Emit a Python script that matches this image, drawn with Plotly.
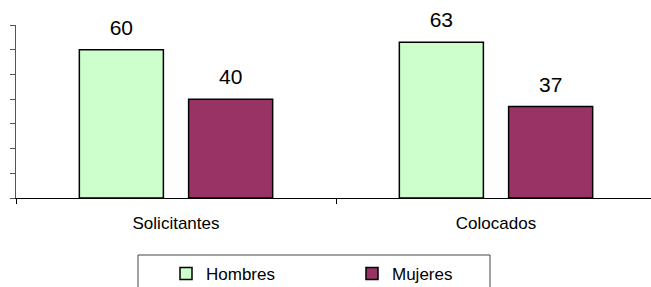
import plotly.graph_objects as go

categories = ["Solicitantes", "Colocados"]
hombres = [60, 63]
mujeres = [40, 37]
series_names = ["Hombres", "Mujeres"]
colors = ["#CCFFCC", "#993366"]

W, H = 651, 287
ml, mr, mt, mb = 16, 0, 25, 89
pw = W - ml - mr
ph = H - mt - mb

def px_x(p):
    return (p - ml) / pw

def px_y(p):
    return (H - mb - p) / ph

fig = go.Figure()
for name, vals, col in zip(series_names, [hombres, mujeres], colors):
    fig.add_trace(go.Bar(
        x=categories, y=vals, name=name, offsetgroup=name,
        marker=dict(color=col, line=dict(color="#000000", width=1.5)),
    ))
for name, vals in zip(series_names, [hombres, mujeres]):
    fig.add_trace(go.Scatter(
        x=categories, y=vals, mode="markers+text", offsetgroup=name,
        text=[str(v) for v in vals], textposition="top center",
        textfont=dict(family="Liberation Sans, Arial", size=21, color="#000000"),
        marker=dict(size=14, color="rgba(0,0,0,0)"),
        showlegend=False, hoverinfo="skip", cliponaxis=False,
    ))

fig.update_layout(
    width=W, height=H,
    margin=dict(l=ml, r=mr, t=mt, b=mb, autoexpand=False),
    paper_bgcolor="white", plot_bgcolor="white",
    barmode="group", scattermode="group",
    bargap=0.317, bargroupgap=0.231, scattergap=0.317,
    font=dict(family="Liberation Sans, Arial", size=17, color="#000000"),
    showlegend=True,
    legend=dict(
        orientation="h", x=px_x(166), y=px_y(256), xanchor="left", yanchor="top",
        entrywidth=141, entrywidthmode="pixels",
        font=dict(size=17, color="#000000"), bgcolor="rgba(0,0,0,0)",
    ),
    shapes=[dict(
        type="rect", xref="paper", yref="paper",
        x0=px_x(138), x1=px_x(490), y0=px_y(255), y1=px_y(300),
        line=dict(color="#444444", width=1), fillcolor="rgba(0,0,0,0)",
    )],
)
fig.update_xaxes(
    range=[-0.5, 1.5 - 5 / 320],
    showline=True, linecolor="#000000", linewidth=1,
    ticks="outside", tickson="boundaries", ticklen=5, tickcolor="#000000",
    showgrid=False, tickfont=dict(size=17), ticklabelstandoff=10,
)
fig.update_yaxes(
    range=[0, 70], dtick=10, showticklabels=False,
    showline=True, linecolor="#555555", linewidth=1,
    ticks="outside", ticklen=5, tickcolor="#555555",
    showgrid=False, zeroline=False,
)
fig.write_html(
    "out.html",
    config={"displayModeBar": False},
    post_script="document.body.style.margin='0';document.body.style.overflow='hidden';",
)
